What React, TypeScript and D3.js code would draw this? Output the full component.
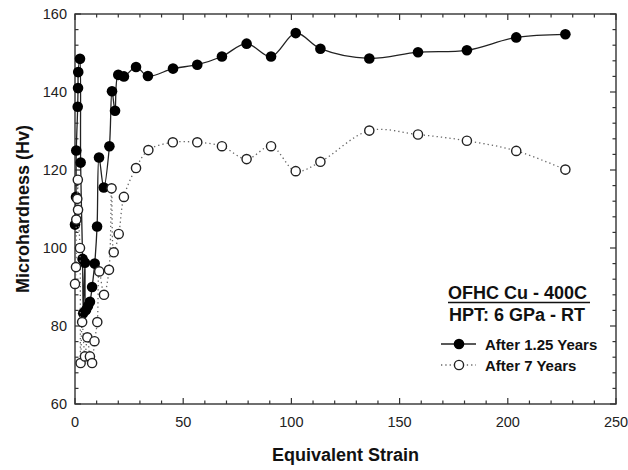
import React from "react";
import * as d3 from "d3";

// Microhardness vs equivalent strain, OFHC Cu annealed at 400C, HPT 6 GPa at RT
const strain125: number[] = [
  0, 0.46, 0.6, 1.25, 1.4, 1.5, 2.3, 2.6, 3.5, 3.8, 4.6, 5.1, 6.0, 6.9, 7.9, 9.1,
  10.2, 11.1, 13.3, 15.9, 17.1, 18.5, 20.0, 22.6, 28.2, 33.7, 45.3, 56.5, 67.9,
  79.3, 90.6, 102.0, 113.4, 136.0, 158.5, 181.1, 203.9, 226.6,
];
const hv125: number[] = [
  106.0, 113.1, 125.0, 136.2, 141.0, 145.1, 148.5, 121.9, 97.2, 83.3, 96.2, 84.1,
  85.1, 86.2, 90.0, 96.0, 105.5, 123.2, 115.5, 126.1, 140.2, 135.2, 144.4, 144.0,
  146.4, 144.1, 146.0, 147.0, 149.1, 152.4, 149.1, 155.1, 151.1, 148.6, 150.2,
  150.7, 154.0, 154.8,
];

const strain7: number[] = [
  0, 0.46, 0.6, 1.06, 1.3, 1.4, 2.3, 2.6, 3.3, 4.6, 5.7, 6.9, 7.9, 9.0, 10.3, 11.2,
  13.4, 15.7, 16.9, 17.9, 20.2, 22.6, 28.2, 33.9, 45.2, 56.5, 67.9, 79.3, 90.6,
  102.0, 113.4, 136.0, 158.5, 181.1, 203.9, 226.6,
];
const hv7: number[] = [
  90.8, 95.1, 107.3, 112.6, 117.5, 109.8, 100.0, 70.5, 81.0, 72.2, 77.1, 72.2,
  70.5, 76.1, 81.0, 94.0, 88.0, 94.4, 115.3, 98.9, 103.6, 113.1, 120.5, 125.1,
  127.1, 127.1, 126.1, 122.8, 126.1, 119.7, 122.1, 130.1, 129.1, 127.5, 124.9,
  120.1,
];

const xMajor: number[] = [0, 50, 100, 150, 200, 250];
const yMajor: number[] = [60, 80, 100, 120, 140, 160];

const legendTitle = "OFHC Cu - 400C";
const legendSubtitle = "HPT: 6 GPa - RT";
const seriesNames = ["After 1.25 Years", "After 7 Years"];

const W = 628;
const H = 470;
const left = 75;
const right = 616;
const top = 14;
const bottom = 404;
const FONT = "'Liberation Sans', Arial, Helvetica, sans-serif";

export default function App() {
  const x = d3.scaleLinear().domain([0, 250]).range([left, right]);
  const y = d3.scaleLinear().domain([60, 160]).range([bottom, top]);

  const line = d3
    .line<[number, number]>()
    .x((d) => x(d[0]))
    .y((d) => y(d[1]))
    .curve(d3.curveCatmullRom.alpha(0.5));

  const pts125: [number, number][] = strain125.map((s, i) => [s, hv125[i]]);
  const pts7: [number, number][] = strain7.map((s, i) => [s, hv7[i]]);

  const xMinor = d3.range(0, 251, 10).filter((v) => v % 50 !== 0);
  const yMinor = d3.range(60, 161, 4).filter((v) => v % 20 !== 0);

  const MAJ = 6;
  const MIN = 3.5;
  const axisColor = "#333";

  const tickLines: React.ReactNode[] = [];
  xMajor.concat(xMinor).forEach((v) => {
    const len = xMajor.includes(v) ? MAJ : MIN;
    const px = x(v);
    tickLines.push(
      <line key={`xb${v}`} x1={px} x2={px} y1={bottom} y2={bottom - len} stroke={axisColor} strokeWidth={1.2} />,
      <line key={`xt${v}`} x1={px} x2={px} y1={top} y2={top + len} stroke={axisColor} strokeWidth={1.2} />
    );
  });
  yMajor.concat(yMinor).forEach((v) => {
    const len = yMajor.includes(v) ? MAJ : MIN;
    const py = y(v);
    tickLines.push(
      <line key={`yl${v}`} x1={left} x2={left + len} y1={py} y2={py} stroke={axisColor} strokeWidth={1.2} />,
      <line key={`yr${v}`} x1={right} x2={right - len} y1={py} y2={py} stroke={axisColor} strokeWidth={1.2} />
    );
  });

  const legX0 = 441;
  const legX1 = 476;
  const legMid = 459;
  const leg1Y = 344;
  const leg2Y = 365;

  return (
    <svg
      width={W}
      height={H}
      viewBox={`0 0 ${W} ${H}`}
      style={{ position: "absolute", left: 0, top: 0, background: "#fff" }}
      fontFamily={FONT}
    >
      <rect x={0} y={0} width={W} height={H} fill="#fff" />

      {/* frame */}
      <rect x={left} y={top} width={right - left} height={bottom - top} fill="none" stroke={axisColor} strokeWidth={1.4} />
      {tickLines}

      {/* x tick labels */}
      {xMajor.map((v) => (
        <text key={`xl${v}`} x={x(v)} y={427} fontSize={14.5} textAnchor="middle" fill="#222">
          {v}
        </text>
      ))}
      {/* y tick labels */}
      {yMajor.map((v) => (
        <text key={`ylb${v}`} x={67} y={y(v) + 5} fontSize={14.5} textAnchor="end" fill="#222">
          {v}
        </text>
      ))}

      {/* axis titles */}
      <text x={(left + right) / 2} y={461} fontSize={18} fontWeight="bold" textAnchor="middle" fill="#111">
        Equivalent Strain
      </text>
      <text
        transform={`translate(29, ${(top + bottom) / 2}) rotate(-90)`}
        fontSize={18}
        fontWeight="bold"
        textAnchor="middle"
        fill="#111"
      >
        Microhardness (Hv)
      </text>

      {/* After 1.25 years */}
      <path d={line(pts125) ?? ""} fill="none" stroke="#222" strokeWidth={1.3} />
      {pts125.map((d, i) => (
        <circle key={`f${i}`} cx={x(d[0])} cy={y(d[1])} r={5.3} fill="#000" />
      ))}

      {/* After 7 years */}
      <path d={line(pts7) ?? ""} fill="none" stroke="#666" strokeWidth={1.3} strokeDasharray="1.3 3" />
      {pts7.map((d, i) => (
        <circle key={`o${i}`} cx={x(d[0])} cy={y(d[1])} r={4.6} fill="#fff" stroke="#222" strokeWidth={1.4} />
      ))}

      {/* legend */}
      <text x={448} y={299} fontSize={18} fontWeight="bold" fill="#111">
        {legendTitle}
      </text>
      <line x1={448} x2={590} y1={302.5} y2={302.5} stroke="#111" strokeWidth={1.5} />
      <text x={449} y={321} fontSize={18} fontWeight="bold" fill="#111">
        {legendSubtitle}
      </text>

      <line x1={legX0} x2={legX1} y1={leg1Y} y2={leg1Y} stroke="#222" strokeWidth={1.3} />
      <circle cx={legMid} cy={leg1Y} r={5.3} fill="#000" />
      <text x={485} y={leg1Y + 5.5} fontSize={15} fontWeight="bold" fill="#111">
        {seriesNames[0]}
      </text>

      <line x1={legX0} x2={legX1} y1={leg2Y} y2={leg2Y} stroke="#666" strokeWidth={1.3} strokeDasharray="1.3 3" />
      <circle cx={legMid} cy={leg2Y} r={4.6} fill="#fff" stroke="#222" strokeWidth={1.4} />
      <text x={485} y={leg2Y + 5.5} fontSize={15} fontWeight="bold" fill="#111">
        {seriesNames[1]}
      </text>
    </svg>
  );
}
